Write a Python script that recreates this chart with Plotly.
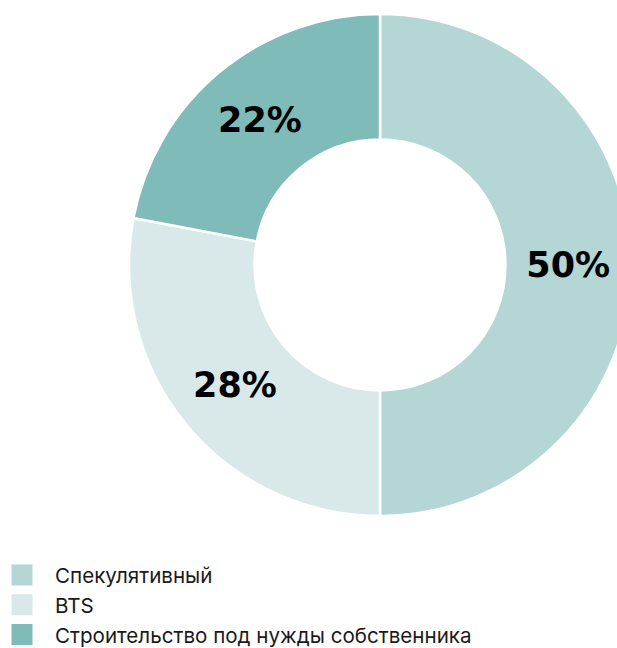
import plotly.graph_objects as go

categories = ["Спекулятивный", "BTS", "Строительство под нужды собственника"]
values = [50, 28, 22]
colors = ["#b4d6d4", "#d9e9e9", "#7fbbb8"]

fig = go.Figure()
fig.add_trace(go.Pie(
    labels=categories,
    values=values,
    hole=0.5,
    sort=False,
    direction="clockwise",
    rotation=0,
    marker=dict(colors=colors, line=dict(color="white", width=2.5)),
    texttemplate="%{percent:.0%}",
    textposition="inside",
    insidetextorientation="horizontal",
    textfont=dict(family="DejaVu Sans", size=35, color="#000000", weight="bold"),
    showlegend=False,
    domain=dict(x=[0, 1], y=[1 - 516 / 648, 1 - 14 / 648]),
    hoverinfo="label+percent",
))

for name, col in zip(categories, colors):
    fig.add_trace(go.Scatter(
        x=[None], y=[None], mode="markers", name=name,
        marker=dict(symbol="square", size=16, color=col, line=dict(color=col, width=5)),
        showlegend=True,
    ))

fig.update_layout(
    width=760, height=648,
    margin=dict(l=0, r=0, t=0, b=0, autoexpand=False),
    paper_bgcolor="white", plot_bgcolor="white",
    xaxis=dict(visible=False), yaxis=dict(visible=False),
    legend=dict(
        x=-11 / 760, y=-0.011, xanchor="left", yanchor="bottom",
        font=dict(family="Inter", size=20.6, color="#1a1a1a"),
        itemwidth=56,
        bgcolor="rgba(0,0,0,0)",
        tracegroupgap=0,
    ),
    showlegend=True,
)

fig.write_html("out.html", post_script="document.body.style.overflow='hidden';document.body.style.margin='0';")
